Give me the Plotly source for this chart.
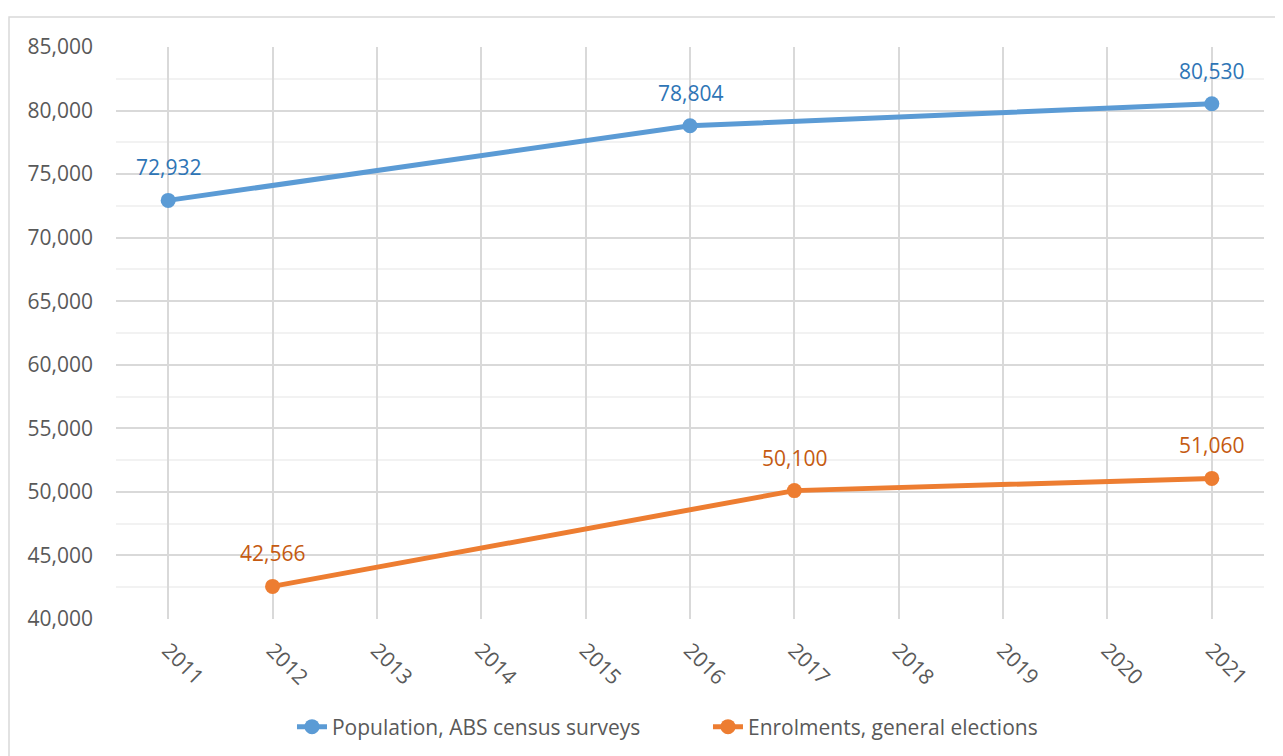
import plotly.graph_objects as go

pop_years = [2011, 2016, 2021]
pop_values = [72932, 78804, 80530]
enr_years = [2012, 2017, 2021]
enr_values = [42566, 50100, 51060]
year_ticks = list(range(2011, 2022))
pop_name = "Population, ABS census surveys"
enr_name = "Enrolments, general elections"

BLUE = "#5B9BD5"
ORANGE = "#ED7D31"
BLUE_LBL = "#2E75B6"
ORANGE_LBL = "#C55A11"
FONT = "Open Sans"

fig = go.Figure()
fig.add_trace(go.Scatter(x=pop_years, y=pop_values, name=pop_name, mode="lines+markers",
                         line=dict(color=BLUE, width=5), marker=dict(size=15, color=BLUE)))
fig.add_trace(go.Scatter(x=enr_years, y=enr_values, name=enr_name, mode="lines+markers",
                         line=dict(color=ORANGE, width=5), marker=dict(size=15, color=ORANGE)))

for xs, ys, c in [(pop_years, pop_values, BLUE_LBL), (enr_years, enr_values, ORANGE_LBL)]:
    for x, y in zip(xs, ys):
        fig.add_annotation(x=x, y=y, text=f"{y:,}", showarrow=False, yshift=33,
                           font=dict(family=FONT, size=21, color=c))

fig.add_shape(type="rect", xref="paper", yref="paper", x0=-0.0932, x1=1.03, y0=-0.3, y1=1.0524,
              line=dict(color="#D9D9D9", width=1.5), fillcolor="rgba(0,0,0,0)", layer="below")

fig.update_layout(
    width=1275, height=748,
    margin=dict(l=108, r=19, t=39, b=137),
    paper_bgcolor="white", plot_bgcolor="white",
    font=dict(family=FONT, size=21, color="#595959"),
    showlegend=True,
    legend=dict(orientation="h", x=0.1533, xanchor="left", yref="container", y=0.0388,
                yanchor="middle",
                font=dict(family=FONT, size=21, color="#595959"),
                entrywidthmode="pixels", entrywidth=371, tracegroupgap=0),
    xaxis=dict(range=[2010.5, 2021.5], tickmode="array", tickvals=year_ticks,
               ticktext=[str(y) for y in year_ticks], tickangle=45, automargin=False,
               showgrid=True, gridcolor="#D9D9D9", gridwidth=1.5, zeroline=False,
               showline=False, ticks="", tickfont=dict(size=21), ticklabelstandoff=14),
    yaxis=dict(range=[40000, 85000], dtick=5000, tickformat=",", showgrid=True, automargin=False,
               gridcolor="#D9D9D9", gridwidth=1.5, zeroline=False, showline=False,
               ticks="", ticklabelstandoff=22, tickfont=dict(size=21),
               minor=dict(dtick=2500, showgrid=True, gridcolor="#F2F2F2", gridwidth=1.5)),
)

fig.write_html("out.html")
